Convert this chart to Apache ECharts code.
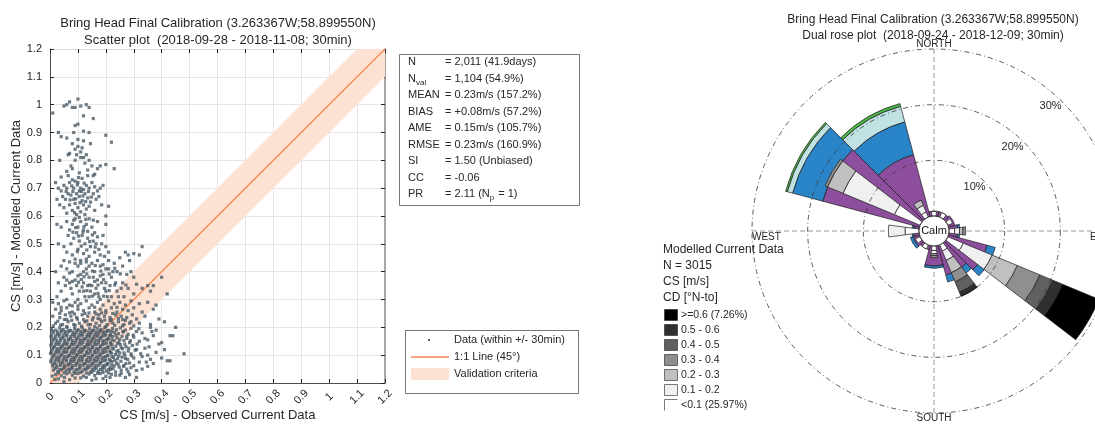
<!DOCTYPE html>
<html><head><meta charset="utf-8">
<script src="https://cdn.jsdelivr.net/npm/echarts@6/dist/echarts.min.js"></script>
<style>html,body{margin:0;padding:0;background:#fff}#c{width:1095px;height:426px}</style>
</head><body><div id="c"></div>
<script>
const FF = 'Liberation Sans, Arial, Helvetica, sans-serif';
// ---------------- Scatter data (observed, modelled) ----------------
const scatterPts = [
[0.01,0.97],[0.06,1.0],[0.07,1.01],[0.08,0.99],[0.09,0.99],[0.1,1.02],[0.11,0.995],[0.13,1.0],[0.14,0.99],[0.155,0.95],[0.03,0.9],[0.04,0.885],[0.06,0.88],[0.085,0.9],[0.12,0.905],[0.14,0.9],[0.2,0.89],[0.22,0.865],[0.1,0.93],[0.09,0.925],[0.12,0.96],[0.05,0.995],
[0.08,0.86],[0.09,0.84],[0.1,0.85],[0.11,0.83],[0.12,0.87],[0.095,0.82],[0.07,0.825],[0.065,0.82],[0.11,0.81],[0.12,0.81],[0.13,0.82],[0.1,0.875],[0.14,0.8],[0.115,0.845],[0.075,0.78],[0.08,0.77],[0.06,0.76],[0.15,0.78],[0.18,0.78],[0.2,0.785],[0.23,0.77],[0.17,0.77],[0.04,0.74],[0.125,0.79],[0.135,0.765],[0.105,0.755],[0.16,0.75],[0.09,0.8],[0.035,0.8],[0.145,0.86],
[0.02,0.72],[0.03,0.7],[0.04,0.69],[0.05,0.71],[0.06,0.7],[0.07,0.72],[0.08,0.73],[0.09,0.725],[0.1,0.72],[0.11,0.7],[0.12,0.695],[0.13,0.71],[0.14,0.7],[0.15,0.72],[0.16,0.705],[0.17,0.69],[0.18,0.7],[0.19,0.71],[0.045,0.67],[0.055,0.66],[0.065,0.68],[0.075,0.675],[0.085,0.66],[0.095,0.68],[0.105,0.67],[0.115,0.655],[0.125,0.68],[0.135,0.665],[0.145,0.65],[0.155,0.68],[0.165,0.66],[0.175,0.67],[0.035,0.64],[0.05,0.63],[0.07,0.64],[0.08,0.62],[0.09,0.645],[0.1,0.63],[0.11,0.615],[0.12,0.64],[0.13,0.625],[0.14,0.635],[0.16,0.62],[0.185,0.64],[0.2,0.6],[0.21,0.635],[0.06,0.61],[0.095,0.605],[0.125,0.605],[0.105,0.69],[0.085,0.7],[0.115,0.735],[0.135,0.745],[0.065,0.745],[0.025,0.66],[0.155,0.745],
[0.098,0.712],[0.112,0.688],[0.092,0.662],[0.108,0.648],[0.118,0.672],[0.082,0.688],[0.128,0.652],[0.102,0.738],[0.088,0.612],[0.072,0.658],[0.138,0.688],[0.058,0.688],[0.148,0.668],[0.078,0.708],[0.122,0.718],
[0.04,0.56],[0.06,0.58],[0.07,0.55],[0.08,0.57],[0.09,0.59],[0.1,0.56],[0.11,0.58],[0.12,0.55],[0.13,0.57],[0.14,0.59],[0.15,0.56],[0.16,0.54],[0.17,0.58],[0.065,0.53],[0.075,0.5],[0.085,0.52],[0.095,0.54],[0.105,0.51],[0.115,0.53],[0.125,0.5],[0.135,0.52],[0.145,0.49],[0.155,0.51],[0.165,0.5],[0.175,0.48],[0.185,0.5],[0.2,0.49],[0.21,0.47],[0.05,0.49],[0.06,0.47],[0.08,0.46],[0.1,0.48],[0.12,0.465],[0.14,0.455],[0.16,0.47],[0.18,0.46],[0.195,0.455],[0.03,0.5],[0.025,0.57],[0.11,0.44],[0.13,0.435],[0.09,0.445],[0.07,0.435],[0.19,0.53],[0.2,0.57],[0.105,0.595],[0.085,0.585],[0.135,0.545],[0.155,0.585],[0.17,0.525],
[0.092,0.558],[0.118,0.542],[0.128,0.588],[0.102,0.528],[0.142,0.508],[0.112,0.492],[0.098,0.472],[0.132,0.478],[0.152,0.532],[0.082,0.542],[0.162,0.488],[0.122,0.562],
[0.02,0.4],[0.04,0.42],[0.05,0.38],[0.06,0.41],[0.07,0.36],[0.08,0.4],[0.09,0.37],[0.1,0.42],[0.11,0.39],[0.12,0.36],[0.13,0.41],[0.14,0.38],[0.15,0.35],[0.16,0.4],[0.17,0.37],[0.18,0.42],[0.19,0.39],[0.2,0.36],[0.21,0.41],[0.22,0.38],[0.23,0.43],[0.24,0.4],[0.25,0.45],[0.26,0.42],[0.27,0.47],[0.28,0.46],[0.3,0.465],[0.32,0.46],[0.33,0.49],[0.29,0.4],[0.3,0.38],[0.31,0.355],[0.33,0.34],[0.35,0.35],[0.36,0.33],[0.37,0.35],[0.3,0.32],[0.28,0.34],[0.26,0.36],[0.24,0.33],[0.22,0.31],[0.2,0.33],[0.18,0.3],[0.16,0.32],[0.14,0.31],[0.12,0.33],[0.1,0.3],[0.08,0.32],[0.06,0.3],[0.04,0.33],[0.03,0.36],[0.025,0.31],[0.055,0.35],[0.075,0.34],[0.095,0.35],[0.105,0.33],[0.115,0.345],[0.125,0.31],[0.135,0.35],[0.145,0.33],[0.155,0.38],[0.165,0.34],[0.175,0.31],[0.185,0.36],[0.195,0.34],[0.205,0.31],[0.215,0.35],[0.225,0.4],[0.235,0.36],[0.245,0.31],[0.255,0.34],[0.265,0.31],[0.275,0.39],[0.285,0.44],[0.11,0.43],[0.13,0.445],[0.15,0.43],[0.17,0.44],[0.19,0.425],[0.21,0.44],[0.09,0.43],[0.07,0.395],[0.05,0.44],[0.12,0.4],[0.14,0.42],[0.16,0.365],[0.18,0.385],[0.2,0.41],[0.08,0.365],[0.1,0.385],[0.06,0.37],[0.4,0.38],[0.42,0.32],[0.38,0.28],
[0.112,0.372],[0.132,0.392],[0.152,0.402],[0.172,0.352],[0.192,0.372],[0.142,0.352],[0.162,0.422],[0.182,0.402],[0.122,0.382],[0.102,0.362],[0.212,0.392],[0.232,0.412],[0.172,0.322],[0.192,0.312],[0.152,0.312],[0.132,0.332],[0.212,0.332],[0.232,0.352],[0.252,0.392],[0.272,0.352],
[0.01,0.29],[0.03,0.285],[0.05,0.295],[0.07,0.28],[0.09,0.29],[0.11,0.285],[0.13,0.295],[0.15,0.28],[0.17,0.29],[0.19,0.28],[0.21,0.295],[0.23,0.285],[0.25,0.29],[0.27,0.28],[0.29,0.295],[0.32,0.285],[0.35,0.29],
[0.02,0.265],[0.04,0.26],[0.06,0.27],[0.08,0.255],[0.1,0.265],[0.12,0.26],[0.14,0.27],[0.16,0.255],[0.18,0.265],[0.2,0.26],[0.22,0.27],[0.24,0.255],[0.26,0.265],[0.28,0.26],[0.3,0.27],[0.33,0.255],[0.37,0.265],
[0.01,0.24],[0.035,0.235],[0.055,0.245],[0.075,0.24],[0.095,0.235],[0.115,0.245],[0.135,0.24],[0.155,0.235],[0.175,0.245],[0.195,0.24],[0.215,0.235],[0.235,0.245],[0.255,0.24],[0.275,0.235],[0.295,0.245],[0.31,0.23],[0.34,0.24],[0.39,0.23],
[0.02,0.215],[0.045,0.21],[0.065,0.22],[0.085,0.21],[0.105,0.215],[0.125,0.22],[0.145,0.21],[0.165,0.215],[0.185,0.22],[0.205,0.21],[0.225,0.215],[0.245,0.22],[0.265,0.21],[0.285,0.215],[0.3,0.205],[0.32,0.215],[0.36,0.21],[0.41,0.22],[0.45,0.2],[0.43,0.17],
[0.1,0.277],[0.16,0.272],[0.2,0.252],[0.22,0.228],[0.14,0.252],[0.12,0.228],[0.18,0.228],[0.08,0.277],[0.06,0.228],[0.26,0.228],[0.24,0.272],[0.04,0.272],
[0.012,0.205],[0.038,0.208],[0.06,0.203],[0.09,0.207],[0.113,0.204],[0.137,0.209],[0.16,0.202],[0.178,0.206],[0.2,0.203],[0.232,0.207],[0.028,0.222],[0.052,0.228],[0.078,0.225],[0.098,0.229],[0.132,0.223],[0.152,0.227],[0.172,0.232],[0.196,0.226],[0.215,0.224],[0.035,0.25],[0.07,0.252],[0.088,0.248],[0.125,0.25],[0.165,0.248],[0.185,0.252],[0.225,0.25],[0.245,0.232],[0.27,0.225],[0.29,0.22],[0.262,0.185],[0.275,0.168],[0.288,0.152],[0.268,0.14],[0.282,0.125],[0.265,0.108],[0.292,0.098],[0.27,0.088],[0.285,0.072],[0.263,0.06],[0.3,0.062],[0.275,0.05],[0.305,0.118],[0.312,0.14],[0.298,0.172],[0.318,0.195],[0.325,0.105],[0.34,0.16],[0.355,0.13],[0.345,0.075],[0.365,0.185],[0.255,0.035],[0.235,0.028],[0.285,0.03],[0.215,0.02],[0.165,0.015],[0.09,0.018],[0.052,0.02],[0.008,0.025],[0.018,0.012],[0.26,0.205],
[0.005,0.195],[0.02,0.19],[0.034,0.198],[0.047,0.192],[0.061,0.199],[0.074,0.189],[0.088,0.196],[0.101,0.191],[0.115,0.198],[0.128,0.188],[0.142,0.195],[0.156,0.19],[0.169,0.197],[0.183,0.192],[0.196,0.199],[0.21,0.189],[0.224,0.196],[0.238,0.191],[0.252,0.198],[0.27,0.19],[0.29,0.196],[0.31,0.185],
[0.009,0.187],[0.027,0.184],[0.041,0.189],[0.055,0.185],[0.068,0.188],[0.083,0.183],[0.097,0.189],[0.111,0.185],[0.124,0.19],[0.139,0.183],[0.152,0.188],[0.166,0.184],[0.18,0.189],[0.193,0.183],[0.207,0.188],[0.22,0.185],
[0.012,0.181],[0.026,0.176],[0.04,0.183],[0.053,0.178],[0.067,0.184],[0.081,0.175],[0.094,0.182],[0.108,0.177],[0.122,0.184],[0.135,0.174],[0.149,0.181],[0.162,0.176],[0.176,0.183],[0.19,0.178],[0.203,0.185],[0.217,0.175],[0.231,0.182],[0.245,0.177],[0.262,0.184],[0.28,0.175],[0.33,0.18],[0.37,0.17],
[0.005,0.172],[0.019,0.169],[0.033,0.174],[0.047,0.17],[0.061,0.173],[0.075,0.168],[0.089,0.174],[0.103,0.17],[0.117,0.175],[0.131,0.168],[0.144,0.173],[0.158,0.169],[0.172,0.174],[0.186,0.168],[0.2,0.173],[0.214,0.17],[0.236,0.172],
[0.004,0.166],[0.018,0.161],[0.032,0.168],[0.046,0.163],[0.059,0.169],[0.073,0.16],[0.087,0.167],[0.1,0.162],[0.114,0.169],[0.128,0.159],[0.141,0.166],[0.155,0.161],[0.169,0.168],[0.182,0.163],[0.196,0.17],[0.21,0.16],[0.224,0.167],[0.24,0.162],[0.258,0.168],[0.275,0.16],[0.3,0.165],[0.35,0.155],
[0.011,0.157],[0.025,0.154],[0.039,0.159],[0.053,0.155],[0.067,0.158],[0.081,0.153],[0.095,0.159],[0.109,0.155],[0.123,0.16],[0.137,0.153],[0.151,0.158],[0.165,0.154],[0.179,0.159],[0.193,0.153],[0.207,0.158],[0.222,0.155],[0.25,0.157],
[0.01,0.151],[0.024,0.146],[0.038,0.153],[0.052,0.148],[0.066,0.154],[0.079,0.145],[0.093,0.152],[0.107,0.147],[0.12,0.154],[0.134,0.144],[0.148,0.151],[0.161,0.146],[0.175,0.153],[0.189,0.148],[0.203,0.155],[0.216,0.145],[0.23,0.152],[0.247,0.147],[0.265,0.153],[0.285,0.145],[0.32,0.15],[0.4,0.145],
[0.006,0.142],[0.02,0.139],[0.034,0.144],[0.048,0.14],[0.062,0.143],[0.076,0.138],[0.09,0.144],[0.104,0.14],[0.118,0.145],[0.132,0.138],[0.146,0.143],[0.16,0.139],[0.174,0.144],[0.188,0.138],[0.202,0.143],[0.218,0.14],[0.242,0.142],
[0.003,0.136],[0.016,0.131],[0.03,0.138],[0.044,0.133],[0.058,0.139],[0.071,0.13],[0.085,0.137],[0.099,0.132],[0.112,0.139],[0.126,0.129],[0.14,0.136],[0.153,0.131],[0.167,0.138],[0.181,0.133],[0.194,0.14],[0.208,0.13],[0.222,0.137],[0.236,0.132],[0.252,0.138],[0.272,0.13],[0.295,0.135],[0.34,0.125],
[0.012,0.127],[0.026,0.124],[0.04,0.129],[0.054,0.125],[0.068,0.128],[0.082,0.123],[0.096,0.129],[0.11,0.125],[0.124,0.13],[0.138,0.123],[0.152,0.128],[0.166,0.124],[0.18,0.129],[0.194,0.123],[0.208,0.128],[0.223,0.125],[0.255,0.127],
[0.009,0.121],[0.023,0.116],[0.037,0.123],[0.05,0.118],[0.064,0.124],[0.078,0.115],[0.091,0.122],[0.105,0.117],[0.119,0.124],[0.132,0.114],[0.146,0.121],[0.16,0.116],[0.173,0.123],[0.187,0.118],[0.201,0.125],[0.214,0.115],[0.228,0.122],[0.244,0.117],[0.26,0.123],[0.28,0.115],[0.31,0.12],[0.38,0.11],
[0.005,0.112],[0.019,0.109],[0.033,0.114],[0.047,0.11],[0.061,0.113],[0.075,0.108],[0.089,0.114],[0.103,0.11],[0.117,0.115],[0.131,0.108],[0.145,0.113],[0.159,0.109],[0.173,0.114],[0.187,0.108],[0.201,0.113],[0.217,0.11],[0.239,0.112],
[0.002,0.106],[0.015,0.101],[0.029,0.108],[0.043,0.103],[0.056,0.109],[0.07,0.1],[0.084,0.107],[0.097,0.102],[0.111,0.109],[0.125,0.099],[0.138,0.106],[0.152,0.101],[0.166,0.108],[0.179,0.103],[0.193,0.11],[0.207,0.1],[0.221,0.107],[0.235,0.102],[0.25,0.108],[0.268,0.1],[0.29,0.105],[0.33,0.095],[0.48,0.105],
[0.011,0.097],[0.025,0.094],[0.039,0.099],[0.053,0.095],[0.067,0.098],[0.081,0.093],[0.095,0.099],[0.109,0.095],[0.123,0.1],[0.137,0.093],[0.151,0.098],[0.165,0.094],[0.179,0.099],[0.193,0.093],[0.207,0.098],[0.222,0.095],[0.246,0.097],
[0.008,0.091],[0.022,0.086],[0.035,0.093],[0.049,0.088],[0.063,0.094],[0.076,0.085],[0.09,0.092],[0.104,0.087],[0.117,0.094],[0.131,0.084],[0.145,0.091],[0.158,0.086],[0.172,0.093],[0.186,0.088],[0.199,0.095],[0.213,0.085],[0.227,0.092],[0.242,0.087],[0.258,0.093],[0.278,0.085],[0.3,0.09],[0.36,0.085],[0.4,0.09],
[0.004,0.082],[0.018,0.079],[0.032,0.084],[0.046,0.08],[0.06,0.083],[0.074,0.078],[0.088,0.084],[0.102,0.08],[0.116,0.085],[0.13,0.078],[0.144,0.083],[0.158,0.079],[0.172,0.084],[0.186,0.078],[0.2,0.083],[0.216,0.08],[0.232,0.082],
[0.003,0.076],[0.017,0.071],[0.031,0.078],[0.044,0.073],[0.058,0.079],[0.072,0.07],[0.085,0.077],[0.099,0.072],[0.113,0.079],[0.126,0.069],[0.14,0.076],[0.154,0.071],[0.167,0.078],[0.181,0.073],[0.195,0.08],[0.208,0.07],[0.222,0.077],[0.238,0.072],[0.254,0.078],[0.272,0.07],[0.32,0.075],[0.42,0.08],
[0.01,0.067],[0.024,0.064],[0.038,0.069],[0.052,0.065],[0.066,0.068],[0.08,0.063],[0.094,0.069],[0.108,0.065],[0.122,0.07],[0.136,0.063],[0.15,0.068],[0.164,0.064],[0.178,0.069],[0.192,0.063],[0.206,0.068],[0.221,0.065],[0.244,0.067],
[0.01,0.061],[0.024,0.056],[0.037,0.063],[0.051,0.058],[0.065,0.064],[0.078,0.055],[0.092,0.062],[0.106,0.057],[0.119,0.064],[0.133,0.054],[0.147,0.061],[0.16,0.056],[0.174,0.063],[0.188,0.058],[0.201,0.065],[0.215,0.055],[0.23,0.062],[0.248,0.057],[0.265,0.063],[0.29,0.055],[0.35,0.06],
[0.018,0.052],[0.034,0.049],[0.049,0.054],[0.064,0.05],[0.079,0.053],[0.093,0.048],[0.107,0.054],[0.122,0.05],[0.137,0.055],[0.151,0.048],[0.166,0.053],[0.18,0.049],[0.195,0.054],[0.21,0.048],[0.226,0.052],
[0.012,0.046],[0.028,0.041],[0.042,0.048],[0.057,0.043],[0.071,0.049],[0.086,0.04],[0.1,0.047],[0.115,0.042],[0.129,0.049],[0.144,0.039],[0.158,0.046],[0.173,0.041],[0.187,0.048],[0.202,0.043],[0.218,0.049],[0.235,0.04],[0.255,0.046],[0.28,0.04],[0.31,0.045],
[0.03,0.037],[0.05,0.036],[0.07,0.039],[0.09,0.035],[0.11,0.038],[0.13,0.036],[0.15,0.039],[0.17,0.035],[0.19,0.038],[0.21,0.036],
[0.02,0.031],[0.04,0.026],[0.06,0.033],[0.08,0.028],[0.1,0.034],[0.12,0.025],[0.14,0.032],[0.16,0.027],[0.18,0.034],[0.2,0.024],[0.22,0.031],[0.25,0.028],[0.42,0.035],[0.27,0.02],
[0.03,0.015],[0.07,0.012],[0.11,0.018],[0.15,0.01],[0.19,0.016],[0.05,0.005],[0.13,0.02],
[0.36,0.2],[0.38,0.19],[0.39,0.14],[0.41,0.12],[0.44,0.17],[0.43,0.08],[0.35,0.1],[0.37,0.07],[0.33,0.05],[0.31,0.02]
];
const oneToOneX = [0, 1.2];
const oneToOneY = [0, 1.2];
const bandX = [0, 0.1, 1.1, 1.2];
const bandLow = [0, 0, 1.0, 1.1];
const bandHigh = [0.1, 0.2, 1.2, 1.2];

const statNames = ['N', 'N', 'MEAN', 'BIAS', 'AME', 'RMSE', 'SI', 'CC', 'PR'];
const statSubs = ['', 'val', '', '', '', '', '', '', ''];
const statVals = ['= 2,011 (41.9days)', '= 1,104 (54.9%)', '= 0.23m/s (157.2%)', '= +0.08m/s (57.2%)', '= 0.15m/s (105.7%)', '= 0.23m/s (160.9%)', '= 1.50 (Unbiased)', '= -0.06', '= 2.11 (N'];
const prTail = ['p', ' = 1)'];
const scatterLegend = ['Data (within +/- 30min)', '1:1 Line (45\u00b0)', 'Validation criteria'];

// ---------------- Rose data (direction bins, % per speed class) ----------------
const roseDirs = [0, 30, 60, 90, 120, 150, 180, 210, 240, 270, 300, 330];
// observed (colour rose, drawn underneath, full bin width)
const obsClass1 = [0.9, 0.9, 1.2, 1.6, 7.2, 5.5, 3.6, 0.8, 1.2, 1.0, 18.0, 11.5];
const obsClass2 = [0, 0, 0, 0.4, 1.5, 1.3, 0.4, 0, 0.5, 0.3, 5.6, 6.1];
const obsClass3 = [0, 0, 0, 0, 0, 0, 0, 0, 0, 0, 1.0, 2.9];
const obsClass4 = [0, 0, 0, 0, 0, 0, 0, 0, 0, 0, 0.3, 0.5];
// modelled (grey rose, drawn on top, half bin width)
const modLt01 = [0.8, 0.9, 0.9, 1.0, 3.0, 1.2, 0.8, 0.8, 0.9, 2.5, 5.0, 1.0];
const mod0102 = [0, 0, 0, 0.9, 5.6, 1.8, 0.6, 0, 0, 3.0, 10.0, 1.3];
const mod0203 = [0, 0, 0, 0.6, 4.9, 2.4, 0.3, 0, 0, 0, 3.0, 1.0];
const mod0304 = [0, 0, 0, 0.5, 4.4, 1.8, 0.4, 0, 0, 0, 0.5, 0];
const mod0405 = [0, 0, 0, 0, 2.5, 2.0, 0, 0, 0, 0, 0, 0];
const mod0506 = [0, 0, 0, 0, 1.9, 0.7, 0, 0, 0, 0, 0, 0];
const modGe06 = [0, 0, 0, 0, 7.1, 0.16, 0, 0, 0, 0, 0, 0];
const ringPcts = [10, 20, 30];
const compassNames = ['NORTH', 'EAST', 'SOUTH', 'WEST'];
const compassDirs = [0, 90, 180, 270];
const roseLegendHead = ['Modelled Current Data', 'N = 3015', 'CS [m/s]', 'CD [\u00b0N-to]'];
const roseLegendItems = ['>=0.6 (7.26%)', '0.5 - 0.6', '0.4 - 0.5', '0.3 - 0.4', '0.2 - 0.3', '0.1 - 0.2', '<0.1 (25.97%)'];

// styles
const OBS_COLORS = ['#8d4e9d', '#2a85c8', '#c0e2e2', '#4cb648'];
const MOD_COLORS = ['#ffffff', '#f0f0f0', '#c0c0c0', '#8f8f8f', '#606060', '#303030', '#000000'];
const OBS_W = 30, MOD_W = 15;
const CALM = 2.7;

function buildSegments(classes, width) {
  const out = [];
  roseDirs.forEach((d, i) => {
    let c = 0;
    classes.forEach((arr, k) => {
      const v = arr[i];
      if (v > 0) { out.push([c, c + v, d, width, k]); c += v; }
    });
  });
  return out;
}
const obsSegs = buildSegments([obsClass1, obsClass2, obsClass3, obsClass4], OBS_W);
const modSegs = buildSegments([modLt01, mod0102, mod0203, mod0304, mod0405, mod0506, modGe06], MOD_W);

function sectorRenderer(colors) {
  return function (params, api) {
    const cs = params.coordSys;
    const a = api.value(2), w = api.value(3);
    const pIn = api.coord([api.value(0), a]);
    const pOut = api.coord([api.value(1), a]);
    const r0 = Math.hypot(pIn[0] - cs.cx, pIn[1] - cs.cy);
    const r = Math.hypot(pOut[0] - cs.cx, pOut[1] - cs.cy);
    const ps = api.coord([api.value(1), a - w / 2]);
    const sa = Math.atan2(ps[1] - cs.cy, ps[0] - cs.cx);
    const ea = sa + w * Math.PI / 180;
    return {
      type: 'sector',
      shape: { cx: cs.cx, cy: cs.cy, r0: r0, r: r, startAngle: sa, endAngle: ea, clockwise: true },
      style: { fill: colors[api.value(4)], stroke: '#1e1e1e', lineWidth: 0.7 }
    };
  };
}

const ctx = document.createElement('canvas').getContext('2d');
function tw(t, font) { ctx.font = font; return ctx.measureText(t).width; }
function txt(x, y, t, size, opts) {
  opts = opts || {};
  const font = size + 'px ' + FF;
  return {
    type: 'text', x: x, y: y, z: 50,
    style: {
      text: t, font: font, fill: opts.color || '#262626',
      textAlign: opts.align || 'left', align: opts.align || 'left',
      textVerticalAlign: 'middle', verticalAlign: 'middle'
    }
  };
}

const g = [];
// Titles
g.push(txt(218, 23, 'Bring Head Final Calibration (3.263367W;58.899550N)', 13, { align: 'center' }));
g.push(txt(218, 40, 'Scatter plot  (2018-09-28 - 2018-11-08; 30min)', 13, { align: 'center' }));
g.push(txt(933, 20, 'Bring Head Final Calibration (3.263367W;58.899550N)', 12, { align: 'center' }));
g.push(txt(933, 36, 'Dual rose plot  (2018-09-24 - 2018-12-09; 30min)', 12, { align: 'center' }));

// Stats box
g.push({ type: 'rect', shape: { x: 399.5, y: 54.5, width: 180, height: 151 }, style: { fill: '#fff', stroke: '#555', lineWidth: 0.8 }, z: 40 });
const statFont = '11px ' + FF;
statNames.forEach((n, i) => {
  const y = 62 + i * 16.5;
  g.push(txt(408, y, n, 11));
  if (statSubs[i]) g.push(txt(408 + tw(n, statFont), y + 4, statSubs[i], 8));
  g.push(txt(445, y, statVals[i], 11));
  if (i === statNames.length - 1) {
    const x1 = 445 + tw(statVals[i], statFont);
    g.push(txt(x1, y + 4, prTail[0], 8));
    g.push(txt(x1 + tw(prTail[0], '8px ' + FF) + 1, y, prTail[1], 11));
  }
});

// Scatter legend
g.push({ type: 'rect', shape: { x: 405.5, y: 330.5, width: 173, height: 63 }, style: { fill: '#fff', stroke: '#555', lineWidth: 0.8 }, z: 40 });
g.push({ type: 'rect', shape: { x: 428, y: 339, width: 2, height: 2 }, style: { fill: '#4a5a67' }, z: 50 });
g.push({ type: 'line', shape: { x1: 411, y1: 357, x2: 449, y2: 357 }, style: { stroke: '#f5844c', lineWidth: 1.3 }, z: 50 });
g.push({ type: 'rect', shape: { x: 411, y: 368, width: 38, height: 12 }, style: { fill: '#fde2d3' }, z: 50 });
scatterLegend.forEach((t, i) => g.push(txt(454, 340 + i * 17, t, 11)));

// Rose legend
roseLegendHead.forEach((t, i) => g.push(txt(663, 250 + i * 16, t, 12)));
roseLegendItems.forEach((t, i) => {
  const y = 315 + i * 15;
  if (i < 6) {
    g.push({ type: 'rect', shape: { x: 664.5, y: y - 5.5, width: 13, height: 11 }, style: { fill: MOD_COLORS[6 - i], stroke: '#222', lineWidth: 0.6 }, z: 50 });
  } else {
    g.push({ type: 'polyline', shape: { points: [[664.5, y + 5.5], [664.5, y - 5.5], [677.5, y - 5.5]] }, style: { stroke: '#222', lineWidth: 0.6, fill: null }, z: 50 });
  }
  g.push(txt(681, y, t, 10.5));
});

const axisLabelStyle = { color: '#262626', fontSize: 11, fontFamily: FF };
const option = {
  animation: false,
  backgroundColor: '#fff',
  grid: { left: 50, top: 49, width: 335, height: 334, containLabel: false, outerBoundsMode: 'none' },
  xAxis: [
    {
      type: 'value', min: 0, max: 1.2, interval: 0.1, position: 'bottom',
      name: 'CS [m/s] - Observed Current Data', nameLocation: 'middle', nameGap: 26, nameMoveOverlap: false,
      nameTextStyle: { color: '#262626', fontSize: 13, fontFamily: FF },
      axisLine: { show: true, onZero: false, lineStyle: { color: '#262626', width: 0.8 } },
      axisTick: { show: true, inside: true, length: 4, lineStyle: { color: '#262626' } },
      axisLabel: Object.assign({ rotate: 45, margin: 14, align: 'center', verticalAlign: 'middle' }, axisLabelStyle),
      splitLine: { show: true, lineStyle: { color: '#e6e6e6', width: 1 } }
    },
    {
      type: 'value', min: 0, max: 1.2, interval: 0.1, position: 'top',
      axisLine: { show: true, onZero: false, lineStyle: { color: '#d9d9d9', width: 0.8 } },
      axisTick: { show: true, inside: true, length: 4, lineStyle: { color: '#262626' } },
      axisLabel: { show: false }, splitLine: { show: false }
    }
  ],
  yAxis: [
    {
      type: 'value', min: 0, max: 1.2, interval: 0.1, position: 'left',
      name: 'CS [m/s] - Modelled Current Data', nameLocation: 'middle', nameGap: 27, nameRotate: 90, nameMoveOverlap: false,
      nameTextStyle: { color: '#262626', fontSize: 13, fontFamily: FF },
      axisLine: { show: true, onZero: false, lineStyle: { color: '#262626', width: 0.8 } },
      axisTick: { show: true, inside: true, length: 4, lineStyle: { color: '#262626' } },
      axisLabel: Object.assign({ margin: 8 }, axisLabelStyle),
      splitLine: { show: true, lineStyle: { color: '#e6e6e6', width: 1 } }
    },
    {
      type: 'value', min: 0, max: 1.2, interval: 0.1, position: 'right',
      axisLine: { show: true, onZero: false, lineStyle: { color: '#8c8c8c', width: 1.5 } },
      axisTick: { show: true, inside: true, length: 4, lineStyle: { color: '#262626' } },
      axisLabel: { show: false }, splitLine: { show: false }
    }
  ],
  polar: { center: [934, 231], radius: 182 },
  angleAxis: {
    type: 'value', min: 0, max: 360, interval: 90, startAngle: 90, clockwise: true,
    axisLine: { show: false }, axisTick: { show: false }, axisLabel: { show: false },
    splitLine: { show: true, lineStyle: { color: '#8a8a8a', type: [5, 3], width: 0.9 } }
  },
  radiusAxis: {
    type: 'value', min: -CALM, max: 30,
    axisLine: { show: false }, axisTick: { show: false }, axisLabel: { show: false }, splitLine: { show: false }
  },
  graphic: { elements: g },
  series: [
    {
      type: 'custom', xAxisIndex: 0, yAxisIndex: 0, z: 1, silent: true, clip: true,
      data: [[0.6, 0.6]],
      renderItem: function (params, api) {
        const pts = [];
        for (let i = 0; i < bandX.length; i++) pts.push(api.coord([bandX[i], bandHigh[i]]));
        for (let i = bandX.length - 1; i >= 0; i--) pts.push(api.coord([bandX[i], bandLow[i]]));
        return { type: 'polygon', shape: { points: pts }, style: { fill: '#fde2d3' } };
      }
    },
    {
      type: 'line', xAxisIndex: 0, yAxisIndex: 0, z: 2, silent: true, symbol: 'none',
      data: oneToOneX.map((x, i) => [x, oneToOneY[i]]),
      lineStyle: { color: '#f5844c', width: 1.2 }
    },
    {
      type: 'scatter', xAxisIndex: 0, yAxisIndex: 0, z: 3, silent: true,
      symbol: 'rect', symbolSize: 3.2, data: scatterPts,
      itemStyle: { color: '#4a5a67' }
    },
    {
      type: 'custom', coordinateSystem: 'polar', z: 5, silent: true,
      data: obsSegs, renderItem: sectorRenderer(OBS_COLORS)
    },
    {
      type: 'custom', coordinateSystem: 'polar', z: 6, silent: true,
      data: modSegs, renderItem: sectorRenderer(MOD_COLORS)
    },
    {
      type: 'custom', coordinateSystem: 'polar', z: 7, silent: true,
      data: ringPcts.map(p => [p, 0]),
      renderItem: function (params, api) {
        const cs = params.coordSys;
        const p = api.coord([api.value(0), 0]);
        const r = Math.hypot(p[0] - cs.cx, p[1] - cs.cy);
        const lp = api.coord([api.value(0) - 2.0, 43]);
        return {
          type: 'group', children: [
            { type: 'circle', shape: { cx: cs.cx, cy: cs.cy, r: r }, style: { fill: null, stroke: '#333', lineWidth: 0.8, lineDash: [5, 3, 1, 3] } },
            { type: 'text', x: lp[0], y: lp[1], style: { text: api.value(0) + '%', font: '11px ' + FF, fill: '#262626', align: 'center', verticalAlign: 'middle', textAlign: 'center', textVerticalAlign: 'middle' } }
          ]
        };
      }
    },
    {
      type: 'custom', coordinateSystem: 'polar', z: 8, silent: true,
      data: compassDirs.map(d => [30, d]),
      renderItem: function (params, api) {
        const i = params.dataIndex;
        const p = api.coord([api.value(0), api.value(1)]);
        const al = ['center', 'right', 'center', 'left'][i];
        const va = ['bottom', 'top', 'top', 'top'][i];
        return {
          type: 'text', x: p[0], y: p[1] + [0, 1, 0, 1][i],
          style: { text: compassNames[i], font: '10px ' + FF, fill: '#262626', align: al, verticalAlign: va, textAlign: al, textVerticalAlign: va }
        };
      }
    },
    {
      type: 'custom', coordinateSystem: 'polar', z: 9, silent: true,
      data: [[0, 0]],
      renderItem: function (params, api) {
        const cs = params.coordSys;
        const p = api.coord([0, 0]);
        const r = Math.hypot(p[0] - cs.cx, p[1] - cs.cy);
        return {
          type: 'group', children: [
            { type: 'circle', shape: { cx: cs.cx, cy: cs.cy, r: r }, style: { fill: '#fff', stroke: '#111', lineWidth: 0.8 } },
            { type: 'text', x: cs.cx, y: cs.cy, style: { text: 'Calm', font: '11px ' + FF, fill: '#111', align: 'center', verticalAlign: 'middle', textAlign: 'center', textVerticalAlign: 'middle' } }
          ]
        };
      }
    }
  ]
};
const chart = echarts.init(document.getElementById('c'), null, { renderer: 'canvas' });
chart.setOption(option);
</script>
</body></html>
